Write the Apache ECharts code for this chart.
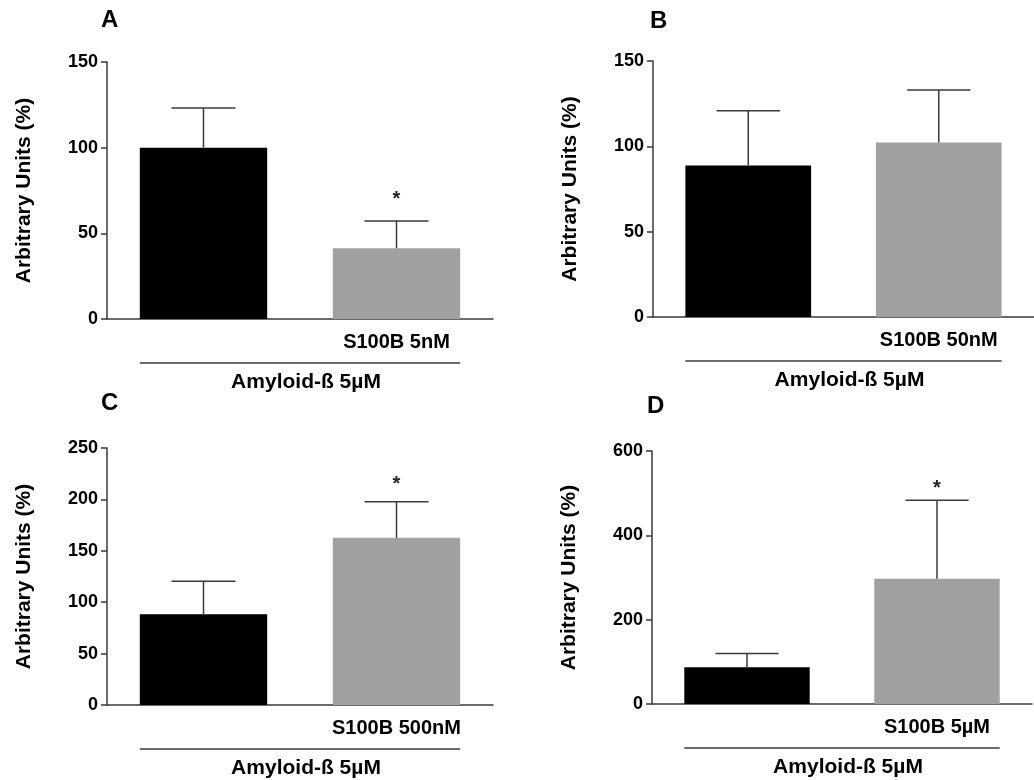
<!DOCTYPE html>
<html>
<head>
<meta charset="utf-8">
<script src="https://cdn.jsdelivr.net/npm/echarts@6/dist/echarts.min.js"></script>
<style>
html,body{margin:0;padding:0;background:#fff;}
#chart{width:1034px;height:780px;}
</style>
</head>
<body>
<div id="chart"></div>
<script>
// ---- data ----
const panelLetters = ['A', 'B', 'C', 'D'];
const catsA = ['', 'S100B 5nM'];
const catsB = ['', 'S100B 50nM'];
const catsC = ['', 'S100B 500nM'];
const catsD = ['', 'S100B 5µM'];
const meanA = [100, 41.3];
const semA = [23.2, 15.9];
const meanB = [88.8, 102.3];
const semB = [32.1, 30.7];
const meanC = [88.3, 162.6];
const semC = [32.2, 35.1];
const meanD = [86.9, 296.8];
const semD = [33.1, 186.4];
const starA = ['', '*'];
const starB = ['', ''];
const starC = ['', '*'];
const starD = ['', '*'];
const starLevelA = [0, 72.5];
const starLevelB = [0, 0];
const starLevelC = [0, 219];
const starLevelD = [0, 523];
const yMaxA = 150, yStepA = 50;
const yMaxB = 150, yStepB = 50;
const yMaxC = 250, yStepC = 50;
const yMaxD = 600, yStepD = 200;
const groupLabel = 'Amyloid-ß 5µM';
const yTitle = 'Arbitrary Units (%)';

// ---- layout / style ----
const FONT = "'Liberation Sans', Arial, sans-serif";
const AX = '#3a3a3a';
const TXT = '#000';
const barColors = ['#000000', '#a0a0a0'];
const grids = [
  {left: 107, top: 62, width: 386, height: 257},
  {left: 653, top: 61, width: 385, height: 256},
  {left: 107, top: 448, width: 386, height: 257},
  {left: 652, top: 451, width: 380, height: 253}
];
const letterPos = [[101, 8], [650, 9], [101, 391], [647, 394]];

const panels = [
  {cats: catsA, mean: meanA, sem: semA, star: starA, starLevel: starLevelA, max: yMaxA, step: yStepA},
  {cats: catsB, mean: meanB, sem: semB, star: starB, starLevel: starLevelB, max: yMaxB, step: yStepB},
  {cats: catsC, mean: meanC, sem: semC, star: starC, starLevel: starLevelC, max: yMaxC, step: yStepC},
  {cats: catsD, mean: meanD, sem: semD, star: starD, starLevel: starLevelD, max: yMaxD, step: yStepD}
];

const option = {
  animation: false,
  backgroundColor: '#ffffff',
  title: panelLetters.map((t, i) => ({
    text: t, left: letterPos[i][0], top: letterPos[i][1], padding: 0,
    textStyle: {fontFamily: FONT, fontWeight: 'bold', fontSize: 24, color: TXT}
  })),
  grid: grids.map(g => Object.assign({containLabel: false}, g)),
  xAxis: panels.map((p, i) => ({
    type: 'category', gridIndex: i, data: p.cats,
    axisLine: {lineStyle: {color: AX, width: 1.5}},
    axisTick: {alignWithLabel: true, length: 6, lineStyle: {color: AX, width: 1.5}},
    axisLabel: {fontFamily: FONT, fontWeight: 'bold', fontSize: 20, color: TXT, margin: 13},
    name: groupLabel, nameLocation: 'middle', nameGap: 53,
    nameTextStyle: {fontFamily: FONT, fontWeight: 'bold', fontSize: 21, color: TXT, padding: [0, 0, 0, 12]},
    splitLine: {show: false}
  })),
  yAxis: panels.map((p, i) => ({
    type: 'value', gridIndex: i, min: 0, max: p.max, interval: p.step,
    axisLine: {show: true, lineStyle: {color: AX, width: 1.5}},
    axisTick: {show: true, length: 6, lineStyle: {color: AX, width: 1.5}},
    axisLabel: {fontFamily: FONT, fontWeight: 'bold', fontSize: 18, color: TXT, margin: 9},
    splitLine: {show: false},
    name: yTitle, nameLocation: 'middle', nameGap: 72, nameRotate: 90,
    nameTextStyle: {fontFamily: FONT, fontWeight: 'bold', fontSize: 21, color: TXT}
  })),
  series: []
};

panels.forEach((p, i) => {
  option.series.push({
    type: 'bar', xAxisIndex: i, yAxisIndex: i, barWidth: '66%',
    data: p.mean.map((v, j) => ({value: v, itemStyle: {color: barColors[j]}})),
    z: 2
  });
  option.series.push({
    type: 'custom', xAxisIndex: i, yAxisIndex: i, z: 3, clip: false,
    data: p.mean.map((v, j) => [j, v, v + p.sem[j], p.starLevel[j]]),
    renderItem: (params, api) => {
      const j = params.dataIndex;
      const x = api.value(0);
      const lo = api.coord([x, api.value(1)]);
      const hi = api.coord([x, api.value(2)]);
      const half = api.size([1, 0])[0] * 0.166;
      const style = {stroke: AX, lineWidth: 1.5};
      const children = [
        {type: 'line', shape: {x1: lo[0], y1: lo[1], x2: hi[0], y2: hi[1]}, style},
        {type: 'line', shape: {x1: hi[0] - half, y1: hi[1], x2: hi[0] + half, y2: hi[1]}, style}
      ];
      if (p.star[j]) {
        const s = api.coord([x, api.value(3)]);
        children.push({type: 'text', x: s[0], y: s[1] + 5,
          style: {text: p.star[j], fontFamily: FONT, fontWeight: 'bold', fontSize: 20, fill: '#222', align: 'center', verticalAlign: 'middle'}});
      }
      return {type: 'group', children};
    }
  });
  // group bracket line under the categories
  option.series.push({
    type: 'custom', xAxisIndex: i, yAxisIndex: i, z: 3, clip: false, silent: true,
    data: [[0, 0]],
    renderItem: (params, api) => {
      const a = api.coord([0, 0]);
      const b = api.coord([p.cats.length - 1, 0]);
      const half = api.size([1, 0])[0] * 0.33;
      return {type: 'line', shape: {x1: a[0] - half, y1: a[1] + 44, x2: b[0] + half, y2: a[1] + 44},
        style: {stroke: AX, lineWidth: 1.5}};
    }
  });
});

const chart = echarts.init(document.getElementById('chart'), null, {renderer: 'canvas'});
chart.setOption(option);
</script>
</body>
</html>
